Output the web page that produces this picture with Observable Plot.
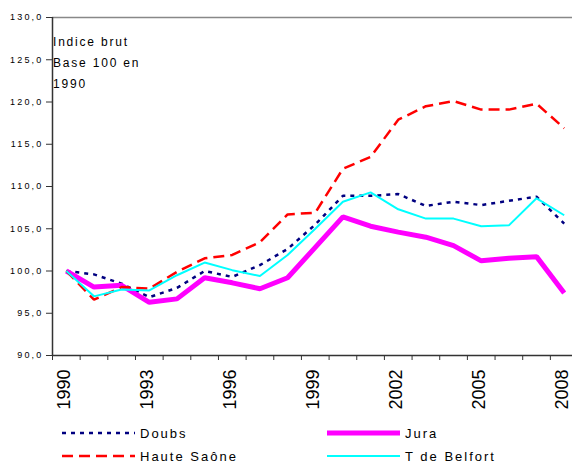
<!DOCTYPE html>
<html>
<head>
<meta charset="utf-8">
<script src="https://cdn.jsdelivr.net/npm/d3@7"></script>
<script src="https://cdn.jsdelivr.net/npm/@observablehq/plot@0.6"></script>
<style>
  html, body { margin: 0; padding: 0; background: #fff; }
  #wrap { position: relative; width: 572px; height: 464px; font-family: "Liberation Sans", Arial, sans-serif; overflow: hidden; }
  #wrap svg { font-family: "Liberation Sans", Arial, sans-serif; }
  [aria-label="y-axis tick label"] text { letter-spacing: 2.2px; }
  .note { position: absolute; left: 53px; top: 32px; font-size: 12px; letter-spacing: 1.8px; line-height: 21px; color: #000; }
  .leg { position: absolute; display: flex; align-items: center; font-size: 13px; letter-spacing: 2px; color: #000; }
  .leg svg { margin-right: 5px; }
</style>
</head>
<body>
<div id="wrap"></div>
<script>
const years = [1990,1991,1992,1993,1994,1995,1996,1997,1998,1999,2000,2001,2002,2003,2004,2005,2006,2007,2008];
const doubs      = [100, 99.6, 98.5, 96.9, 98.0, 100.0, 99.3, 100.7, 102.6, 105.5, 108.9, 108.9, 109.1, 107.7, 108.2, 107.8, 108.3, 108.8, 105.6];
const jura       = [100, 98.1, 98.3, 96.3, 96.7, 99.2, 98.6, 97.9, 99.2, 102.8, 106.4, 105.3, 104.6, 104.0, 103.0, 101.2, 101.5, 101.7, 97.4];
const hauteSaone = [100, 96.6, 98.1, 97.9, 99.9, 101.5, 101.9, 103.4, 106.7, 106.9, 112.1, 113.5, 117.9, 119.5, 120.1, 119.1, 119.1, 119.8, 116.9];
const belfort    = [100, 97.0, 97.8, 97.7, 99.5, 101.0, 100.1, 99.4, 101.9, 105.0, 108.2, 109.3, 107.3, 106.2, 106.2, 105.3, 105.4, 108.6, 106.6];
const yTicks = [90, 95, 100, 105, 110, 115, 120, 125, 130];
const xLabelYears = [1990, 1993, 1996, 1999, 2002, 2005, 2008];
const noteLines = ["Indice brut", "Base 100 en", "1990"];

const series = [
  {name: "Doubs", values: doubs, stroke: "#000080", width: 2.5, dash: "4,5"},
  {name: "Jura", values: jura, stroke: "#FF00FF", width: 5, dash: null},
  {name: "Haute Saône", values: hauteSaone, stroke: "#FF0000", width: 2.5, dash: "11,6"},
  {name: "T de Belfort", values: belfort, stroke: "#00FFFF", width: 2, dash: null}
];

const xDomain = [years[0] - 0.5, years[years.length - 1] + 0.3];
const yDomain = [yTicks[0], yTicks[yTicks.length - 1]];
const boundaries = years.map(y => y - 0.5);
const fmt = d => d.toFixed(1).replace(".", ",");

const lineMarks = series.map(s => Plot.line(
  years.map((yr, i) => ({year: yr, value: s.values[i]})),
  {x: "year", y: "value", stroke: s.stroke, strokeWidth: s.width, strokeDasharray: s.dash || undefined, strokeLinejoin: "miter", strokeLinecap: "butt"}
));

const chart = Plot.plot({
  width: 572,
  height: 420,
  marginLeft: 52,
  marginRight: 0,
  marginTop: 17,
  marginBottom: 65,
  x: {domain: xDomain, label: null},
  y: {domain: yDomain, label: null},
  marks: [
    Plot.ruleY([yDomain[1]], {stroke: "#888", strokeWidth: 1.5}),
    ...lineMarks,
    Plot.ruleX([xDomain[0]], {stroke: "#333", strokeWidth: 1.5}),
    Plot.ruleY([yDomain[0]], {stroke: "#333", strokeWidth: 1.5}),
    Plot.axisY({ticks: yTicks, tickFormat: fmt, tickSize: 6, tickPadding: 3, fontSize: 9, stroke: "#333", fill: "#000", label: null}),
    Plot.axisX({ticks: boundaries, tickFormat: () => "", tickSize: 5, stroke: "#333", label: null}),
    Plot.text(xLabelYears, {x: d => d, frameAnchor: "bottom", dy: 14, dx: -2, rotate: -90, textAnchor: "end", lineAnchor: "middle", fontSize: 18, fill: "#000", text: d => String(d)})
  ]
});

const wrap = document.getElementById("wrap");
wrap.appendChild(chart);

const note = document.createElement("div");
note.className = "note";
note.innerHTML = noteLines.join("<br>");
wrap.appendChild(note);

const legendPos = [
  {left: 62, top: 425}, {left: 327, top: 425},
  {left: 62, top: 448}, {left: 327, top: 448}
];
series.forEach((s, i) => {
  const d = document.createElement("div");
  d.className = "leg";
  d.style.left = legendPos[i].left + "px";
  d.style.top = legendPos[i].top + "px";
  d.innerHTML = `<svg width="73" height="16"><line x1="0" x2="73" y1="8" y2="8" stroke="${s.stroke}" stroke-width="${s.width}" ${s.dash ? `stroke-dasharray="${s.dash}"` : ""}/></svg><span>${s.name}</span>`;
  wrap.appendChild(d);
});
</script>
</body>
</html>
